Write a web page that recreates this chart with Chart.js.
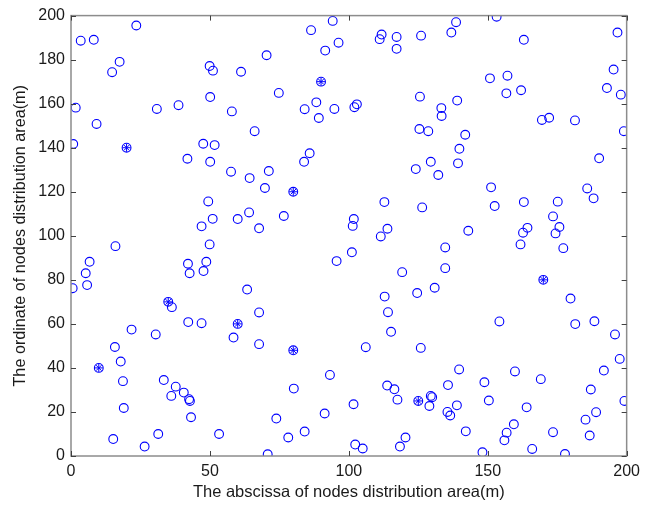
<!doctype html>
<html lang="en">
<head>
  <meta charset="UTF-8">
  <title>Nodes distribution</title>
  <script src="https://cdn.jsdelivr.net/npm/chart.js"></script>
  <style>
    html, body { margin: 0; padding: 0; background: #fff; }
    #chart_01 { width: 646px; height: 507px; display: block; }
  </style>
</head>
<body>
  <canvas id="chart_01" width="646" height="507"></canvas>
  <script type="application/javascript">
    // unknown nodes (open circles)
    const nodeX = [
      23.5, 3.5, 8.2, 17.5, 14.8, 49.9, 51.1, 61.2, 1.7, 30.9, 38.7, 50.1, 57.9, 9.2, 66.1, 0.8, 47.6, 51.7, 41.9, 50.1,
      94.2, 86.4, 111.8, 111.1, 117.2, 117.2, 126, 136.9, 96.3, 91.5, 70.4, 74.8, 88.3, 84.1, 89.2, 94.8, 102.9, 102, 125.6, 133.3,
      133.4, 125.4, 128.6, 85.9, 83.9, 129.5, 153.2, 138.6, 163, 196.7, 195.3, 192.9, 197.9, 150.8, 157.1, 156.7, 162, 139, 169.5, 172.1,
      181.4, 199, 141.9, 139.8, 139.3, 190.1, 57.6, 64.3, 49.4, 64.1, 60, 51, 47, 67.7, 49.9, 16, 6.7, 5.3, 0.6, 5.8,
      42.1, 42.7, 48.7, 47.7, 63.4, 36.3, 67.7, 71.2, 69.8, 76.6, 101.8, 101.4, 112.8, 126.4, 124.1, 132.2, 113.9, 111.5, 101.1, 95.6,
      134.7, 134.7, 119.2, 130.9, 124.6, 112.9, 114.1, 151.2, 152.5, 163, 175.2, 185.8, 188.1, 173.5, 164.3, 162.7, 175.8, 174.4, 143, 161.8,
      177.2, 179.8, 42.2, 47, 58.5, 67.7, 21.8, 30.5, 15.8, 17.9, 18.7, 33.4, 37.7, 36.1, 40.6, 42.5, 42.8, 43.2, 19, 31.4,
      15.2, 26.5, 53.3, 115.2, 106.1, 125.9, 93.2, 80.2, 113.8, 116.4, 117.5, 129.5, 130, 129, 135.7, 135.5, 101.7, 91.3, 73.9, 84.1,
      78.2, 102.3, 105, 120.4, 118.4, 70.8, 154.2, 181.5, 188.4, 195.8, 197.5, 139.7, 159.8, 169.1, 191.8, 148.8, 150.4, 138.9, 136.5, 164,
      187.1, 199.2, 189, 185.2, 186.7, 159.4, 156.8, 156, 142.1, 173.5, 148.1, 166, 177.8
    ]
    const nodeY = [
      195.5, 188.6, 189, 179, 174.3, 177.1, 175, 174.5, 158.2, 157.6, 159.3, 163, 156.5, 150.8, 147.5, 141.7, 141.8, 141.2, 135, 133.6,
      197.6, 193.4, 191.4, 189.3, 190.3, 184.9, 190.9, 192.3, 187.7, 184.1, 182, 164.9, 160.6, 157.5, 153.5, 157.6, 159.7, 158.4, 163.2, 158,
      154.4, 148.5, 147.5, 137.5, 133.6, 133.6, 199.5, 197, 189, 192.3, 175.5, 167.1, 164.1, 171.5, 172.7, 164.7, 166.1, 161.4, 152.6, 153.6,
      152.4, 147.5, 145.9, 139.5, 132.9, 135.2, 129.1, 126.2, 115.6, 110.6, 107.6, 107.7, 104.3, 103.4, 96.1, 95.3, 88.2, 83, 76.2, 77.6,
      87.3, 83, 88.2, 84, 75.6, 67.6, 65.2, 129.4, 121.7, 109, 107.6, 104.5, 115.3, 112.9, 130.3, 127.6, 103.2, 99.7, 92.5, 88.5,
      94.7, 85.3, 83.5, 76.4, 74, 72.4, 65.3, 122, 113.5, 115.3, 115.5, 121.5, 117, 108.8, 103.6, 101.4, 104, 101.1, 102.3, 96.1,
      94.4, 71.5, 60.8, 60.3, 53.8, 50.8, 57.4, 55.2, 49.5, 42.9, 34, 34.5, 31.5, 27.3, 28.8, 25.8, 25, 17.6, 21.8, 10,
      7.7, 4.3, 10, 56.4, 49.4, 49.1, 36.8, 30.6, 32, 30.3, 25.6, 27.3, 26.7, 22.7, 32.2, 20, 23.5, 19.3, 17, 11.1,
      8.4, 5.2, 3.4, 8.4, 4.3, 0.8, 61.1, 59.9, 61.2, 55.2, 44.1, 39.3, 38.4, 34.9, 38.8, 33.5, 25.2, 23, 18.4, 22.1,
      30.2, 25, 19.9, 16.5, 9.3, 14.4, 10.6, 7.1, 11.2, 10.8, 1.7, 3.2, 0.9
    ]

    // anchor nodes (circle with asterisk)
    const anchorX = [20, 90, 80, 35, 60, 80, 10, 125, 170]
    const anchorY = [140, 170, 120, 70, 60, 48, 40, 25, 80]

    const xTicks = [0, 50, 100, 150, 200]
    const yTicks = [0, 20, 40, 60, 80, 100, 120, 140, 160, 180, 200]

    const toPoints = (xs, ys) => xs.map((x, i) => ({x, y: ys[i]}))

    const blue = '#0000ff'
    const family = 'Liberation Sans, Arial, sans-serif'
    const tickFont = {family, size: 16}

    // MATLAB-like box with inward ticks on all four sides
    const boxPlugin = {
      id: 'box',
      afterDraw(chart) {
        const {ctx, chartArea: a, scales: {x, y}} = chart
        ctx.save()
        ctx.strokeStyle = '#8c8c8c'
        ctx.lineWidth = 1.5
        ctx.strokeRect(a.left, a.top, a.right - a.left, a.bottom - a.top)
        ctx.strokeStyle = '#404040'
        ctx.lineWidth = 1
        const len = 5
        ctx.beginPath()
        xTicks.forEach(v => {
          const px = Math.round(x.getPixelForValue(v)) + 0.5
          ctx.moveTo(px, a.bottom); ctx.lineTo(px, a.bottom - len)
          ctx.moveTo(px, a.top); ctx.lineTo(px, a.top + len)
        })
        yTicks.forEach(v => {
          const py = Math.round(y.getPixelForValue(v)) + 0.5
          ctx.moveTo(a.left, py); ctx.lineTo(a.left + len, py)
          ctx.moveTo(a.right, py); ctx.lineTo(a.right - len, py)
        })
        ctx.stroke()
        ctx.restore()
      }
    }

    const config = {
      type: 'scatter',
      data: {
        datasets: [{
          label: 'nodes',
          data: toPoints(nodeX, nodeY),
          pointStyle: 'circle',
          pointRadius: 4.4,
          pointBorderWidth: 1.1,
          pointBorderColor: blue,
          pointBackgroundColor: 'rgba(0,0,0,0)'
        }, {
          label: 'anchor circles',
          data: toPoints(anchorX, anchorY),
          pointStyle: 'circle',
          pointRadius: 4.4,
          pointBorderWidth: 1.1,
          pointBorderColor: blue,
          pointBackgroundColor: 'rgba(0,0,0,0)'
        }, {
          label: 'anchors',
          data: toPoints(anchorX, anchorY),
          pointStyle: 'star',
          pointRadius: 4,
          pointBorderWidth: 1,
          pointBorderColor: blue,
          pointBackgroundColor: blue
        }]
      },
      options: {
        responsive: false,
        animation: false,
        events: [],
        layout: {padding: {left: 0, top: 15, right: 16, bottom: 0}},
        plugins: {
          legend: {display: false},
          tooltip: {enabled: false}
        },
        scales: {
          x: {
            type: 'linear',
            min: 0,
            max: 200,
            afterBuildTicks: s => { s.ticks = xTicks.map(v => ({value: v})) },
            afterFit: s => { s.height = 51 },
            grid: {display: false, drawTicks: false},
            border: {display: false},
            ticks: {font: tickFont, color: '#1a1a1a', padding: 6, maxRotation: 0},
            title: {
              display: true,
              text: 'The abscissa of nodes distribution area(m)',
              font: {family, size: 16.5},
              color: '#1a1a1a',
              padding: {top: 0, bottom: 5}
            }
          },
          y: {
            type: 'linear',
            min: 0,
            max: 200,
            afterBuildTicks: s => { s.ticks = yTicks.map(v => ({value: v})) },
            afterFit: s => { s.width = 71 },
            grid: {display: false, drawTicks: false},
            border: {display: false},
            ticks: {font: tickFont, color: '#1a1a1a', padding: 6},
            title: {
              display: true,
              text: 'The ordinate of nodes distribution area(m)',
              font: {family, size: 16.2},
              color: '#1a1a1a',
              padding: {top: 11, bottom: 0}
            }
          }
        }
      },
      plugins: [boxPlugin]
    }

    const myChart = new Chart(document.getElementById('chart_01'), config)
  </script>
</body>
</html>
